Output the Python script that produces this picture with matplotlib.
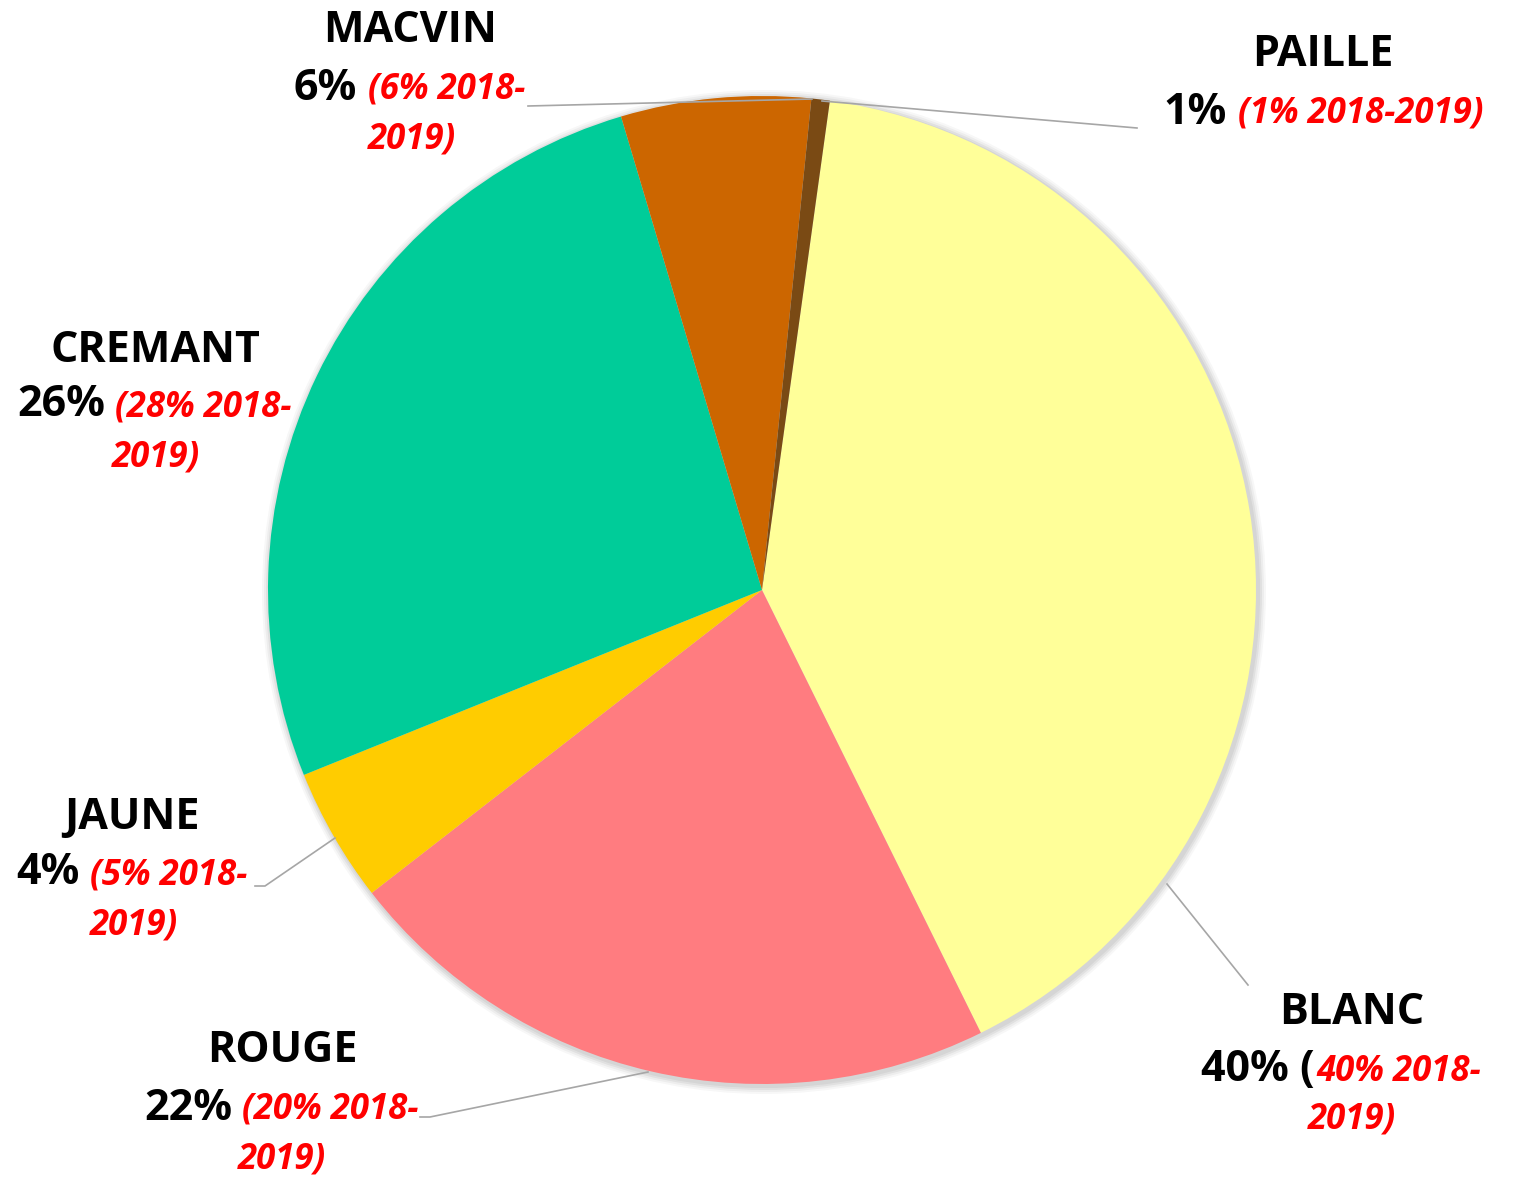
import matplotlib.pyplot as plt
from matplotlib.patches import Circle

# données (part des ventes par couleur)
categories = ["BLANC", "ROUGE", "JAUNE", "CREMANT", "MACVIN", "PAILLE"]
valeurs = [40.5, 21.8, 4.4, 26.5, 6.2, 0.6]
pct = ["40%", "22%", "4%", "26%", "6%", "1%"]
avant = ["40%", "20%", "5%", "28%", "6%", "1%"]
couleurs = ["#FFFF99", "#FF7C80", "#FFCC00", "#00CC99", "#CC6600", "#7A4A14"]

W, H = 1513, 1179
fig = plt.figure(figsize=(W / 100, H / 100), dpi=100)
ax = fig.add_axes([0, 0, 1, 1])
ax.set_xlim(0, W)
ax.set_ylim(0, H)
ax.set_aspect("equal")
ax.axis("off")

cx, cy, r = 762, H - 590, 494

# ombre légère
for k, a in enumerate([0.05, 0.05, 0.04, 0.03]):
    ax.add_patch(Circle((cx + 2, cy - 2), r + 2 + k * 2, color="black", alpha=a, lw=0, zorder=0))

ax.pie(valeurs, colors=couleurs, startangle=82.1, counterclock=False,
       center=(cx, cy), radius=r, frame=True,
       wedgeprops=dict(linewidth=0), normalize=True)
ax.set_xlim(0, W)
ax.set_ylim(0, H)
ax.axis("off")

font = "Open Sans"
sz_nom = 31
sz_pct = 31
sz_rouge = 25

def y(py):
    return H - py

# position des étiquettes : x nom, y nom, x fin noir, x début rouge, y ligne 2, x ligne 3, y ligne 3
etiquettes = {
    "MACVIN": (410, 30, 357, 368, 88, 368, 140),
    "PAILLE": (1323, 55, 1227, 1238, 112, None, None),
    "CREMANT": (155, 350, 105, 115, 405, 112, 458),
    "JAUNE": (132, 817, 80, 90, 873, 90, 925),
    "ROUGE": (282, 1050, 232, 242, 1108, 238, 1160),
    "BLANC": (1352, 1012, 1315, 1316, 1070, 1308, 1120),
}

for cat, p, av in zip(categories, pct, avant):
    xn, yn, xb, xr, y2, x3, y3 = etiquettes[cat]
    ax.text(xn, y(yn), cat, ha="center", va="center", fontsize=sz_nom,
            fontweight="bold", family=font)
    if cat == "BLANC":
        noir = p + " ("
        rouge2 = av + " 2018-"
    elif cat == "PAILLE":
        noir = p
        rouge2 = "(" + av + " 2018-2019)"
    else:
        noir = p
        rouge2 = "(" + av + " 2018-"
    ax.text(xb, y(y2), noir, ha="right", va="center", fontsize=sz_pct,
            fontweight="bold", family=font)
    ax.text(xr, y(y2 + 2), rouge2, ha="left", va="center", fontsize=sz_rouge,
            fontweight="bold", fontstyle="italic", color="red", family=font)
    if x3 is not None:
        ax.text(x3, y(y3), "2019)", ha="left", va="center", fontsize=sz_rouge,
                fontweight="bold", fontstyle="italic", color="red", family=font)

# lignes de rappel
gris = "#A6A6A6"
lignes = [
    [(528, 106), (812, 99)],
    [(822, 101), (1137, 128)],
    [(255, 886), (265, 886), (335, 838)],
    [(420, 1117), (430, 1117), (648, 1072)],
    [(1248, 985), (1167, 884)],
]
for pts in lignes:
    ax.plot([q[0] for q in pts], [y(q[1]) for q in pts], color=gris, lw=1.2, zorder=1)

fig.savefig("out.png", dpi=100)
